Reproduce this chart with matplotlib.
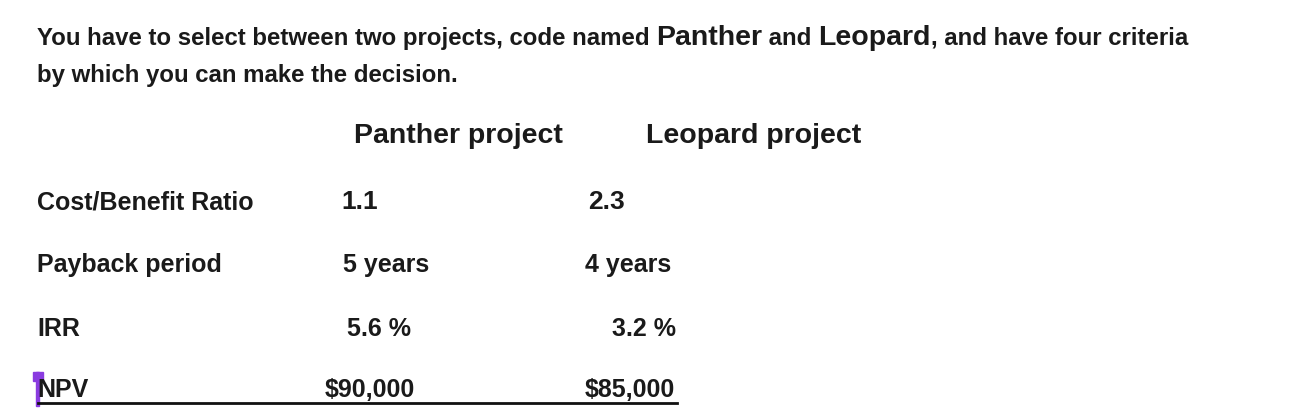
import matplotlib
matplotlib.use("Agg")
import matplotlib.pyplot as plt
from matplotlib.patches import Rectangle

plt.rcParams['font.family'] = ['Liberation Sans', 'DejaVu Sans']

headers = ["Panther project", "Leopard project"]
criteria = ["Cost/Benefit Ratio", "Payback period", "IRR", "NPV"]
panther = ["1.1", "5 years", "5.6 %", "$90,000"]
leopard = ["2.3", "4 years", "3.2 %", "$85,000"]

W, H = 1312, 408
fig = plt.figure(figsize=(W/100, H/100), dpi=100)
ax = fig.add_axes([0, 0, 1, 1])
ax.set_xlim(0, W); ax.set_ylim(H, 0); ax.axis('off')

def t(x, y, s, size, ha='left', va='center'):
    return ax.text(x, y, s, fontsize=size, fontweight='bold', ha=ha, va=va, color='#1a1a1a')

x = 37
parts = [("You have to select between two projects, code named ", 17.3), ("Panther", 20.5),
         (" and ", 17.3), ("Leopard", 20.5), (", and have four criteria", 17.3)]
r = fig.canvas.get_renderer()
for s, sz in parts:
    tx = t(x, 45, s, sz, va='baseline')
    x += tx.get_window_extent(renderer=r).width
t(37, 82, "by which you can make the decision.", 17.3, va='baseline')

t(458, 136, headers[0], 20.5, ha='center')
t(754, 136, headers[1], 20.5, ha='center')

rows_y = [202, 265, 329, 390]
pan_x = [341, 343, 347, 325]
leo_x = [588, 585, 612, 585]
for y, c, p, l, px, lx in zip(rows_y, criteria, panther, leopard, pan_x, leo_x):
    t(37, y, c, 18)
    t(px, y, p, 18 if y != 202 else 19)
    t(lx, y, l, 18 if y != 202 else 19)

ax.plot([38, 677], [403, 403], color='#111111', lw=2)
ax.add_patch(Rectangle((33, 372), 10, 9, color='#8a3be0'))
ax.add_patch(Rectangle((36, 372), 3, 34, color='#8a3be0'))

fig.savefig("out.png", dpi=100)
